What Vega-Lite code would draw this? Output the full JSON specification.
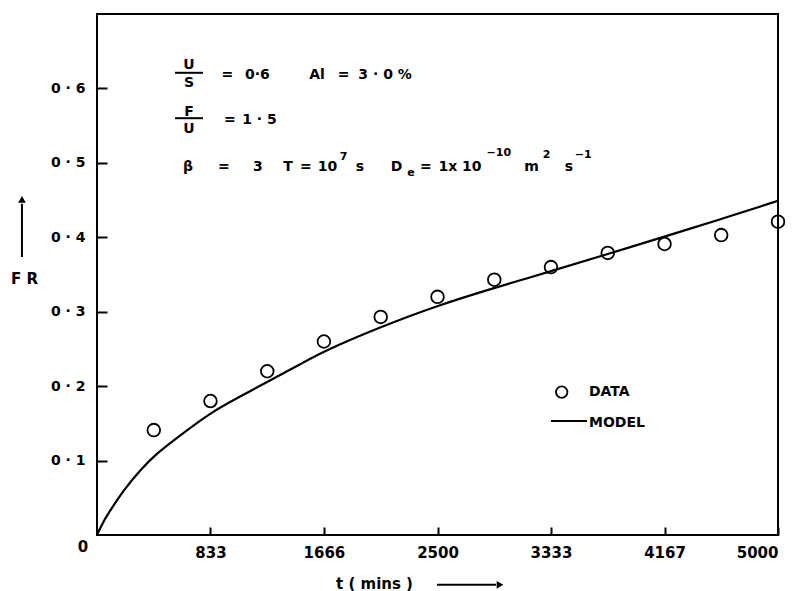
{
  "$schema": "https://vega.github.io/schema/vega-lite/v6.json",
  "autosize": "none",
  "width": 681,
  "height": 521,
  "padding": {"left": 97, "top": 14, "right": 23, "bottom": 56},
  "background": "white",
  "config": {
    "view": {"stroke": "black", "strokeWidth": 2},
    "font": "DejaVu Sans",
    "axis": {
      "grid": false,
      "domain": false,
      "labelFont": "DejaVu Sans",
      "labelFontSize": 14,
      "labelFontWeight": "bold",
      "labelColor": "black",
      "ticks": true,
      "tickColor": "black",
      "tickWidth": 2,
      "tickOpacity": 1,
      "titleFont": "DejaVu Sans",
      "titleFontSize": 15,
      "titleFontWeight": "bold",
      "titleColor": "black"
    },
    "text": {"font": "DejaVu Sans", "fontSize": 14, "fontWeight": "bold", "color": "black"}
  },
  "datasets": {
    "model": [
      {"t": 0, "fr": 0}, {"t": 49, "fr": 0.019}, {"t": 97, "fr": 0.033}, {"t": 194, "fr": 0.06},
      {"t": 316, "fr": 0.087}, {"t": 438, "fr": 0.11}, {"t": 634, "fr": 0.137}, {"t": 830, "fr": 0.164},
      {"t": 1050, "fr": 0.186}, {"t": 1295, "fr": 0.21}, {"t": 1490, "fr": 0.229}, {"t": 1654, "fr": 0.246},
      {"t": 2061, "fr": 0.278}, {"t": 2494, "fr": 0.308}, {"t": 2917, "fr": 0.332}, {"t": 3326, "fr": 0.354},
      {"t": 3742, "fr": 0.377}, {"t": 4170, "fr": 0.401}, {"t": 4574, "fr": 0.424}, {"t": 5000, "fr": 0.449}
    ],
    "obs": [
      {"t": 417, "fr": 0.141}, {"t": 833, "fr": 0.18}, {"t": 1250, "fr": 0.22}, {"t": 1666, "fr": 0.26},
      {"t": 2083, "fr": 0.293}, {"t": 2500, "fr": 0.32}, {"t": 2917, "fr": 0.343}, {"t": 3333, "fr": 0.36},
      {"t": 3750, "fr": 0.379}, {"t": 4167, "fr": 0.391}, {"t": 4583, "fr": 0.403}, {"t": 5000, "fr": 0.421}
    ],
    "notes": [
      {"t": 675, "fr": 0.631, "label": "U"},
      {"t": 675, "fr": 0.607, "label": "S"},
      {"t": 958, "fr": 0.618, "label": "="},
      {"t": 1178, "fr": 0.618, "label": "0·6"},
      {"t": 1615, "fr": 0.618, "label": "Al"},
      {"t": 1810, "fr": 0.618, "label": "="},
      {"t": 2115, "fr": 0.618, "label": "3 · 0 %"},
      {"t": 675, "fr": 0.568, "label": "F"},
      {"t": 675, "fr": 0.545, "label": "U"},
      {"t": 976, "fr": 0.558, "label": "="},
      {"t": 1193, "fr": 0.558, "label": "1 · 5"},
      {"t": 668, "fr": 0.494, "label": "β"},
      {"t": 932, "fr": 0.494, "label": "="},
      {"t": 1182, "fr": 0.494, "label": "3"},
      {"t": 1402, "fr": 0.494, "label": "T"},
      {"t": 1534, "fr": 0.494, "label": "="},
      {"t": 1692, "fr": 0.494, "label": "10"},
      {"t": 1931, "fr": 0.494, "label": "s"},
      {"t": 2199, "fr": 0.494, "label": "D"},
      {"t": 2415, "fr": 0.494, "label": "="},
      {"t": 2665, "fr": 0.494, "label": "1x 10"},
      {"t": 3190, "fr": 0.494, "label": "m"},
      {"t": 3465, "fr": 0.494, "label": "s"}
    ],
    "smallNotes": [
      {"t": 1810, "fr": 0.508, "label": "7"},
      {"t": 2305, "fr": 0.486, "label": "e"},
      {"t": 2950, "fr": 0.513, "label": "−10"},
      {"t": 3300, "fr": 0.511, "label": "2"},
      {"t": 3570, "fr": 0.511, "label": "−1"}
    ],
    "legendText": [
      {"t": 3612, "fr": 0.192, "label": "DATA"},
      {"t": 3612, "fr": 0.150, "label": "MODEL"}
    ],
    "bars": [
      {"t": 573, "t2": 778, "fr": 0.621},
      {"t": 573, "t2": 778, "fr": 0.56},
      {"t": 3333, "t2": 3598, "fr": 0.153}
    ],
    "legendPoint": [{"t": 3412, "fr": 0.192}],
    "origin": [{"t": 0, "fr": 0, "label": "0"}],
    "arrowShafts": [
      {"t": -551, "t2": -551, "fr": 0.3735, "fr2": 0.445},
      {"t": 2496, "t2": 2930, "fr": -0.067, "fr2": -0.067}
    ],
    "arrowUp": [{"t": -551, "fr": 0.451}],
    "arrowRight": [{"t": 2959, "fr": -0.067}]
  },
  "layer": [
    {
      "data": {"name": "model"},
      "mark": {"type": "line", "color": "black", "strokeWidth": 2.2, "interpolate": "basis"},
      "encoding": {
        "x": {
          "field": "t", "type": "quantitative",
          "scale": {"domain": [0, 5000], "nice": false, "zero": false},
          "axis": {
            "values": [833, 1666, 2500, 3333, 4167, 5000],
            "format": "d",
            "labelFontSize": 15,
            "tickSize": -8,
            "labelPadding": 18,
            "title": "t  ( mins )",
            "titleX": 277,
            "titleY": 48,
            "titleAlign": "center",
            "titleBaseline": "middle"
          }
        },
        "y": {
          "field": "fr", "type": "quantitative",
          "scale": {"domain": [0, 0.7], "nice": false},
          "axis": {
            "values": [0.1, 0.2, 0.3, 0.4, 0.5, 0.6],
            "tickSize": -10,
            "labelPadding": 22,
            "labelExpr": "replace(format(datum.value, '.1f'), '.', ' · ')",
            "title": "F R",
            "titleAngle": 0,
            "titleX": -73,
            "titleY": 264,
            "titleAlign": "center",
            "titleBaseline": "middle"
          }
        }
      }
    },
    {
      "data": {"name": "obs"},
      "mark": {"type": "point", "shape": "circle", "filled": false, "color": "black", "strokeWidth": 1.8, "size": 160, "opacity": 1},
      "encoding": {
        "x": {"field": "t", "type": "quantitative"},
        "y": {"field": "fr", "type": "quantitative"}
      }
    },
    {
      "data": {"name": "legendPoint"},
      "mark": {"type": "point", "shape": "circle", "filled": false, "color": "black", "strokeWidth": 1.8, "size": 130, "opacity": 1},
      "encoding": {
        "x": {"field": "t", "type": "quantitative"},
        "y": {"field": "fr", "type": "quantitative"}
      }
    },
    {
      "data": {"name": "bars"},
      "mark": {"type": "rule", "color": "black", "strokeWidth": 2},
      "encoding": {
        "x": {"field": "t", "type": "quantitative"},
        "x2": {"field": "t2"},
        "y": {"field": "fr", "type": "quantitative"}
      }
    },
    {
      "data": {"name": "notes"},
      "mark": {"type": "text", "align": "center", "baseline": "middle"},
      "encoding": {
        "x": {"field": "t", "type": "quantitative"},
        "y": {"field": "fr", "type": "quantitative"},
        "text": {"field": "label"}
      }
    },
    {
      "data": {"name": "smallNotes"},
      "mark": {"type": "text", "align": "center", "baseline": "middle", "fontSize": 11},
      "encoding": {
        "x": {"field": "t", "type": "quantitative"},
        "y": {"field": "fr", "type": "quantitative"},
        "text": {"field": "label"}
      }
    },
    {
      "data": {"name": "legendText"},
      "mark": {"type": "text", "align": "left", "baseline": "middle"},
      "encoding": {
        "x": {"field": "t", "type": "quantitative"},
        "y": {"field": "fr", "type": "quantitative"},
        "text": {"field": "label"}
      }
    },
    {
      "data": {"name": "origin"},
      "mark": {"type": "text", "align": "center", "baseline": "middle", "dx": -14, "dy": 12, "fontSize": 15},
      "encoding": {
        "x": {"field": "t", "type": "quantitative"},
        "y": {"field": "fr", "type": "quantitative"},
        "text": {"field": "label"}
      }
    },
    {
      "data": {"name": "arrowShafts"},
      "mark": {"type": "rule", "color": "black", "strokeWidth": 2},
      "encoding": {
        "x": {"field": "t", "type": "quantitative"},
        "x2": {"field": "t2"},
        "y": {"field": "fr", "type": "quantitative"},
        "y2": {"field": "fr2"}
      }
    },
    {
      "data": {"name": "arrowUp"},
      "mark": {"type": "point", "shape": "triangle-up", "filled": true, "color": "black", "size": 60, "opacity": 1},
      "encoding": {
        "x": {"field": "t", "type": "quantitative"},
        "y": {"field": "fr", "type": "quantitative"}
      }
    },
    {
      "data": {"name": "arrowRight"},
      "mark": {"type": "point", "shape": "triangle-right", "filled": true, "color": "black", "size": 60, "opacity": 1},
      "encoding": {
        "x": {"field": "t", "type": "quantitative"},
        "y": {"field": "fr", "type": "quantitative"}
      }
    }
  ]
}
